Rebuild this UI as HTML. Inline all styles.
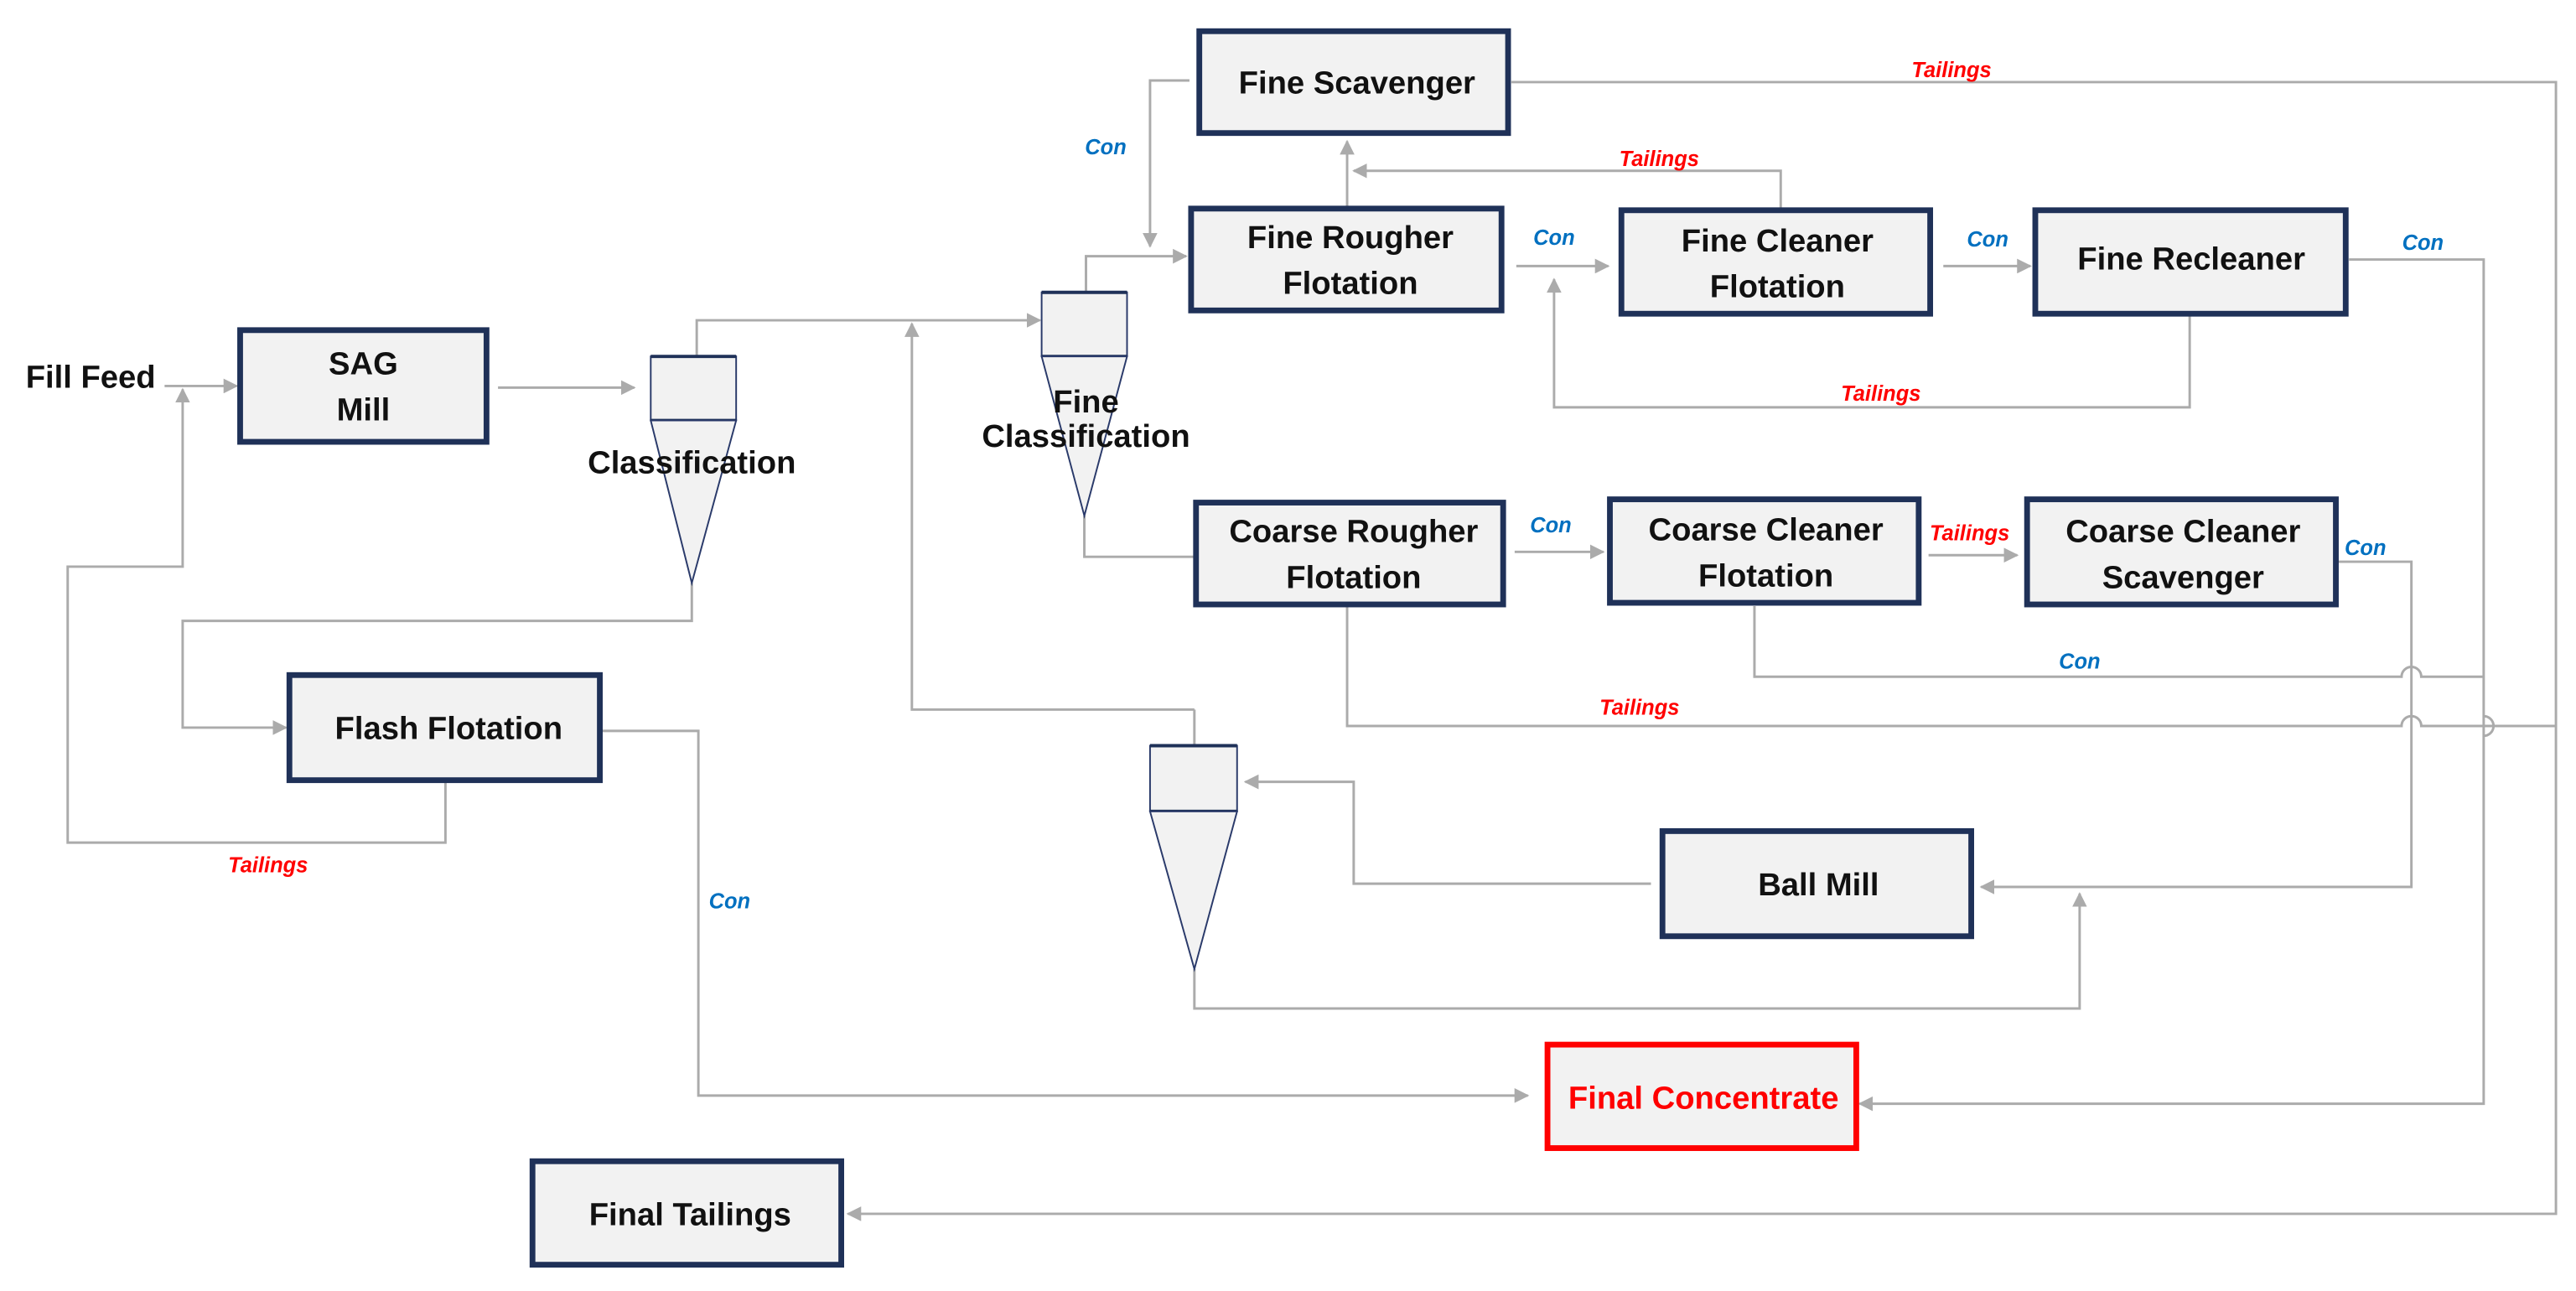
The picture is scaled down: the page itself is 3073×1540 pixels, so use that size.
<!DOCTYPE html>
<html><head><meta charset="utf-8"><style>
html,body{margin:0;padding:0;background:#fff;}
svg{display:block;}
.b{fill:#f2f2f2;stroke:#1f3158;stroke-width:3.5;}
.t{font-family:"Liberation Sans",sans-serif;font-weight:bold;font-size:19.5px;fill:#111;text-anchor:middle;}
.l{fill:none;stroke:#ababab;stroke-width:1.5;}
.con{font-family:"Liberation Sans",sans-serif;font-weight:bold;font-style:italic;font-size:13px;fill:#0070c0;text-anchor:middle;}
.tal{font-family:"Liberation Sans",sans-serif;font-weight:bold;font-style:italic;font-size:13px;fill:#ff0000;text-anchor:middle;}
.cy{fill:#f2f2f2;stroke:#2a3a6a;stroke-width:1;}
</style></head><body>
<svg width="3073" height="1540" viewBox="0 0 1568 786" xmlns="http://www.w3.org/2000/svg">
<defs>
<marker id="a" viewBox="0 0 10 10" refX="9" refY="5" markerWidth="9" markerHeight="9" markerUnits="userSpaceOnUse" orient="auto"><path d="M0,0 L10,5 L0,10 Z" fill="#ababab"/></marker>
</defs>
<rect width="1568" height="786" fill="#fff"/>

<path class="l" d="M100,235 H144" marker-end="url(#a)"/>
<path class="l" d="M303,236 H386" marker-end="url(#a)"/>
<path class="l" d="M424,217 V195 H633" marker-end="url(#a)"/>
<path class="l" d="M727,432 V432 H555 V197" marker-end="url(#a)"/>
<path class="l" d="M727,454 V432"/>
<path class="l" d="M661,178 V156 H722" marker-end="url(#a)"/>
<path class="l" d="M724,49 H700 V150" marker-end="url(#a)"/>
<path class="l" d="M660,314 V339 H727"/>
<path class="l" d="M820,126 V86" marker-end="url(#a)"/>
<path class="l" d="M1084,128 V104 H824" marker-end="url(#a)"/>
<path class="l" d="M923,162 H979" marker-end="url(#a)"/>
<path class="l" d="M1183,162 H1236" marker-end="url(#a)"/>
<path class="l" d="M1333,192 V248 H946 V170" marker-end="url(#a)"/>
<path class="l" d="M1430,158 H1512 V672 H1132" marker-end="url(#a)"/>
<path class="l" d="M920,50 H1556 V739 H516" marker-end="url(#a)"/>
<path class="l" d="M922,336 H976" marker-end="url(#a)"/>
<path class="l" d="M1174,338 H1228" marker-end="url(#a)"/>
<path class="l" d="M1423,342 H1468 V540 H1206" marker-end="url(#a)"/>
<path class="l" d="M1068,369 V412 H1462 A6,6 0 0 1 1474,412 H1512"/>
<path class="l" d="M820,369 V442 H1462 A6,6 0 0 1 1474,442 H1556"/>
<path class="l" d="M1512,436 A6,6 0 0 1 1512,448"/>
<path class="l" d="M1005,538 H824 V476 H758" marker-end="url(#a)"/>
<path class="l" d="M727,590 V614 H1266 V544" marker-end="url(#a)"/>
<path class="l" d="M421,355 V378 H111 V443 H174" marker-end="url(#a)"/>
<path class="l" d="M271,476 V513 H41 V345 H111 V237" marker-end="url(#a)"/>
<path class="l" d="M366,445 H425 V667 H930" marker-end="url(#a)"/>

<rect class="cy" x="396" y="217" width="52" height="39"/>
<line x1="396" y1="217" x2="448" y2="217" stroke="#1f3158" stroke-width="2"/>
<line x1="396" y1="256" x2="448" y2="256" stroke="#1f3158" stroke-width="2"/>
<path class="cy" d="M396,256 L448,256 L421,355 Z"/>
<rect class="cy" x="634" y="178" width="52" height="39"/>
<line x1="634" y1="178" x2="686" y2="178" stroke="#1f3158" stroke-width="2"/>
<line x1="634" y1="217" x2="686" y2="217" stroke="#1f3158" stroke-width="2"/>
<path class="cy" d="M634,217 L686,217 L660,314 Z"/>
<rect class="cy" x="700" y="454" width="53" height="40"/>
<line x1="700" y1="454" x2="753" y2="454" stroke="#1f3158" stroke-width="2"/>
<line x1="700" y1="494" x2="753" y2="494" stroke="#1f3158" stroke-width="2"/>
<path class="cy" d="M700,494 L753,494 L727,590 Z"/>

<rect class="b" x="146" y="201" width="150" height="68"/>
<rect class="b" x="730" y="19" width="188" height="62"/>
<rect class="b" x="725" y="127" width="189" height="62"/>
<rect class="b" x="987" y="128" width="188" height="63"/>
<rect class="b" x="1239" y="128" width="189" height="63"/>
<rect class="b" x="728" y="306" width="187" height="62"/>
<rect class="b" x="980" y="304" width="188" height="63"/>
<rect class="b" x="1234" y="304" width="188" height="64"/>
<rect class="b" x="176" y="411" width="189" height="64"/>
<rect class="b" x="1012" y="506" width="188" height="64"/>
<rect x="942" y="636" width="188" height="63" fill="#f2f2f2" stroke="#ff0000" stroke-width="3.5"/>
<rect class="b" x="324" y="707" width="188" height="63"/>

<text class="t" x="55" y="236">Fill Feed</text>
<text class="t" x="221" y="228">SAG</text>
<text class="t" x="221" y="256">Mill</text>
<text class="t" x="421" y="288">Classification</text>
<text class="t" x="661" y="251">Fine</text>
<text class="t" x="661" y="272">Classification</text>
<text class="t" x="826" y="57">Fine Scavenger</text>
<text class="t" x="822" y="151">Fine Rougher</text>
<text class="t" x="822" y="179">Flotation</text>
<text class="t" x="1082" y="153">Fine Cleaner</text>
<text class="t" x="1082" y="181">Flotation</text>
<text class="t" x="1334" y="164">Fine Recleaner</text>
<text class="t" x="824" y="330">Coarse Rougher</text>
<text class="t" x="824" y="358">Flotation</text>
<text class="t" x="1075" y="329">Coarse Cleaner</text>
<text class="t" x="1075" y="357">Flotation</text>
<text class="t" x="1329" y="330">Coarse Cleaner</text>
<text class="t" x="1329" y="358">Scavenger</text>
<text class="t" x="273" y="450">Flash Flotation</text>
<text class="t" x="1107" y="545">Ball Mill</text>
<text class="t" x="1037" y="675" style="fill:#ff0000">Final Concentrate</text>
<text class="t" x="420" y="746">Final Tailings</text>

<text class="con" x="673" y="94">Con</text>
<text class="con" x="946" y="149">Con</text>
<text class="con" x="1210" y="150">Con</text>
<text class="con" x="1475" y="152">Con</text>
<text class="con" x="944" y="324">Con</text>
<text class="con" x="1440" y="338">Con</text>
<text class="con" x="1266" y="407">Con</text>
<text class="con" x="444" y="553">Con</text>
<text class="tal" x="1188" y="47">Tailings</text>
<text class="tal" x="1010" y="101">Tailings</text>
<text class="tal" x="1145" y="244">Tailings</text>
<text class="tal" x="1199" y="329">Tailings</text>
<text class="tal" x="998" y="435">Tailings</text>
<text class="tal" x="163" y="531">Tailings</text>
</svg>
</body></html>
